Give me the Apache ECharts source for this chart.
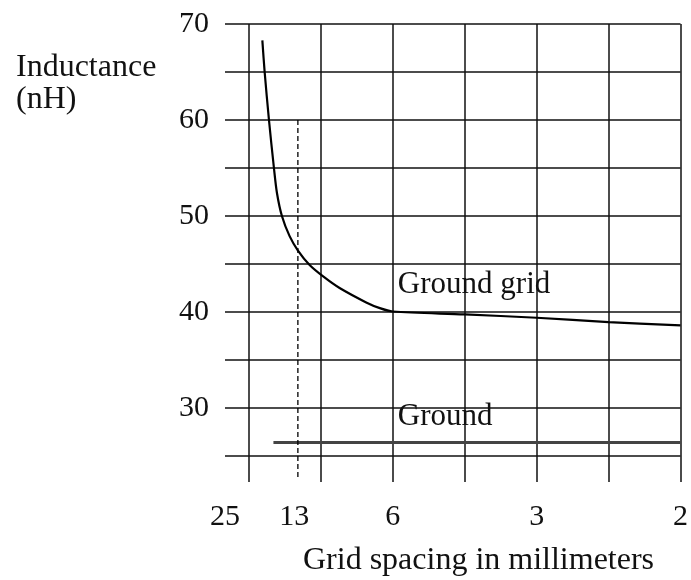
<!DOCTYPE html>
<html>
<head>
<meta charset="utf-8">
<script src="https://cdn.jsdelivr.net/npm/echarts@6/dist/echarts.min.js"></script>
<style>html,body{margin:0;padding:0;background:#fff;}#c{width:691px;height:580px;}</style>
</head>
<body>
<div id="c"></div>
<script>
// x is expressed in grid-cell position along the hand-drawn spacing axis
const xTickPositions = [-1/3, 0.63, 2, 4, 6];
const xTickLabels = ['25', '13', '6', '3', '2'];
const xGridPositions = [0, 1, 2, 3, 4, 5, 6];

const groundGridX = [0.186, 0.218, 0.278, 0.347, 0.389, 0.458, 0.565, 0.681, 0.843, 1.05, 1.26, 1.63, 1.82, 2.0, 3.0, 4.0, 5.0, 6.0];
const groundGridY = [68.3, 65.0, 60.0, 55.0, 52.4, 50.0, 47.9, 46.4, 44.9, 43.6, 42.5, 41.0, 40.4, 40.05, 39.75, 39.4, 38.95, 38.6];

const groundX = [0.34, 6];
const groundY = [26.4, 26.4];

const marker13X = [0.68, 0.68];
const marker13Y = [60, 22.8];

const annotGroundGrid = [2.07, 42.8];
const annotGround = [2.07, 29.1];

const FONT = "'Liberation Serif', 'Times New Roman', serif";
const INK = '#111';

function zip(a, b) { return a.map((v, i) => [v, b[i]]); }

const chart = echarts.init(document.getElementById('c'));
chart.setOption({
  animation: false,
  backgroundColor: '#fff',
  title: [
    { text: 'Inductance\n(nH)', left: 11, top: 47,
      textStyle: { fontFamily: FONT, fontSize: 32, fontWeight: 'normal', color: INK, lineHeight: 32 } },
    { text: 'Grid spacing in millimeters', left: 298, top: 540,
      textStyle: { fontFamily: FONT, fontSize: 32, fontWeight: 'normal', color: INK } }
  ],
  grid: { left: 225, right: 10, top: 24, bottom: 124, containLabel: false },
  xAxis: {
    type: 'value', min: -1/3, max: 6,
    axisLine: { show: false },
    axisTick: { show: true, customValues: xGridPositions, length: 26, inside: false,
      lineStyle: { color: INK, width: 1.5 } },
    splitLine: { show: true, lineStyle: { color: INK, width: 1.5 } },
    axisLabel: { customValues: xTickPositions, margin: 46,
      fontFamily: FONT, fontSize: 30, color: INK,
      formatter: function (v) {
        let best = 0;
        xTickPositions.forEach((p, i) => { if (Math.abs(p - v) < Math.abs(xTickPositions[best] - v)) best = i; });
        return xTickLabels[best];
      } }
  },
  yAxis: {
    type: 'value', min: 25, max: 70, interval: 5,
    axisLine: { show: false }, axisTick: { show: false },
    splitLine: { show: true, lineStyle: { color: INK, width: 1.5 } },
    axisLabel: { margin: 16, fontFamily: FONT, fontSize: 30, color: INK,
      formatter: v => (v % 10 === 0 ? String(v) : '') }
  },
  series: [
    { type: 'line', data: zip(groundGridX, groundGridY), smooth: 0.3,
      symbol: 'none', lineStyle: { color: '#000', width: 2.2 }, z: 5,
      markPoint: { symbol: 'circle', symbolSize: 0, silent: true,
        label: { show: true, position: 'right', distance: 0, fontFamily: FONT, fontSize: 31, color: INK },
        data: [ { coord: annotGroundGrid, value: 'Ground grid', label: { formatter: 'Ground grid' } },
                { coord: annotGround, value: 'Ground', label: { formatter: 'Ground' } } ] } },
    { type: 'line', data: zip(groundX, groundY), symbol: 'none',
      lineStyle: { color: '#444', width: 3 }, z: 4 },
    { type: 'line', data: zip(marker13X, marker13Y), symbol: 'none', clip: false,
      lineStyle: { color: '#000', width: 1.3, type: [5, 3] }, z: 4 }
  ]
});
</script>
</body>
</html>
